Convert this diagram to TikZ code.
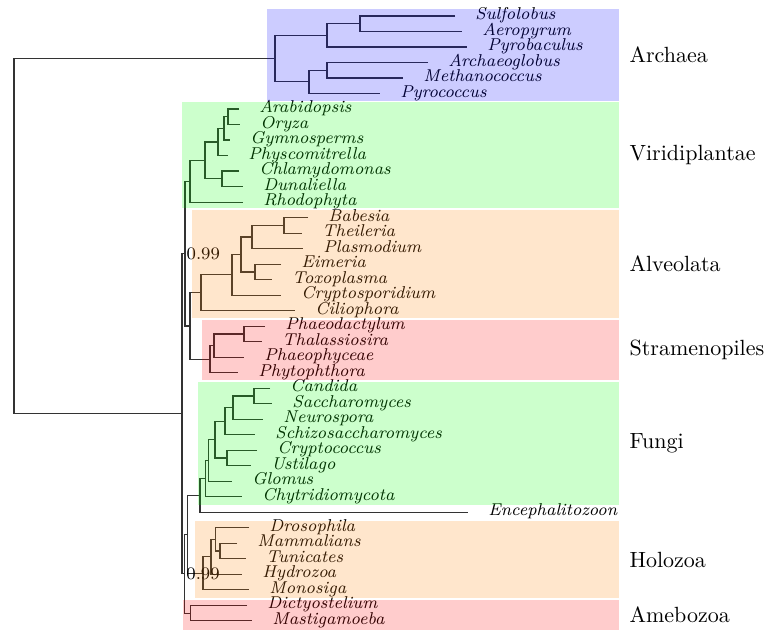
\documentclass[tikz,border=0pt]{standalone}
\begin{document}
\begin{tikzpicture}[x=0.4545pt,y=-0.4545pt,line width=0.55pt,
        leaf/.style={anchor=west,inner xsep=9pt,inner ysep=0pt,text height=5pt,text depth=1.8pt,font=\fontsize{7.8}{9}\selectfont\itshape},
        grp/.style={anchor=west,inner sep=0pt},
        supp/.style={anchor=west,inner sep=0.5pt,font=\footnotesize},
        band/.style={fill opacity=0.2}]
        \useasboundingbox (0,0) rectangle (767,630);
        % leaves, one every 15.51 units from the top
        \foreach \n/\x/\t [count=\i from 0] in {sulf/455/Sulfolobus, aero/462/Aeropyrum, pyrob/467/Pyrobaculus,
            archg/428/Archaeoglobus, meth/403/Methanococcus, pyroc/380/Pyrococcus,
            arab/239/Arabidopsis, oryza/240/Oryza, gymno/230/Gymnosperms, physc/228/Physcomitrella,
            chlam/239/Chlamydomonas, dunal/243/Dunaliella, rhodo/243/Rhodophyta,
            babes/308/Babesia, theil/302/Theileria, plasm/303/Plasmodium, eimer/281/Eimeria,
            toxop/272/Toxoplasma, crysp/281/Cryptosporidium, cilio/295/Ciliophora,
            phaeo/265/Phaeodactylum, thala/262/Thalassiosira, phyce/244/Phaeophyceae, phyto/238/Phytophthora,
            candi/270/Candida, sacch/272/Saccharomyces, neuro/263/Neurospora, schiz/255/Schizosaccharomyces,
            cryco/257/Cryptococcus, ustil/251/Ustilago, glomu/232/Glomus, chytr/242/Chytridiomycota,
            encep/468/Encephalitozoon,
            droso/249/Drosophila, mamma/237/Mammalians, tunic/246/Tunicates, hydro/242/Hydrozoa, monos/249/Monosiga,
            dicty/247/Dictyostelium, masti/252/Mastigamoeba}
          \node[leaf] (\n) at (\x,{16+15.51*\i}) {\t};
        % inner nodes
        \coordinate (a1) at (360,23.75);   \coordinate (a2) at (327,35.4);
        \coordinate (a3) at (327,70.25);   \coordinate (a4) at (309,81.9);
        \coordinate (arch) at (275,58.65);
        \coordinate (v1) at (228,116.85);  \coordinate (v2) at (224,128.5);
        \coordinate (v3) at (218,142.05);  \coordinate (v4) at (222,178.85);
        \coordinate (v5) at (205,160.45);  \coordinate (vir) at (190,181.3);
        \coordinate (l1) at (284,225.35);  \coordinate (l2) at (252,237);
        \coordinate (l3) at (255,271.95);  \coordinate (l4) at (241,254.5);
        \coordinate (l5) at (232,274.85);  \coordinate (alv) at (201,292.8);
        \coordinate (s1) at (244,333.95);  \coordinate (s2) at (214,345.6);
        \coordinate (str) at (210,359.15); \coordinate (alst) at (190,326);
        \coordinate (bik) at (185,253.65);
        \coordinate (f1) at (254,396);     \coordinate (f2) at (233,407.65);
        \coordinate (f3) at (225,421.2);   \coordinate (f4) at (227,458.05);
        \coordinate (f5) at (215,439.6);   \coordinate (f6) at (208.5,460.45);
        \coordinate (fun) at (205.5,478.6); \coordinate (mic) at (200,495.45);
        \coordinate (h1) at (220,551.1);   \coordinate (h2) at (215.5,539.45);
        \coordinate (h3) at (211,556.9);   \coordinate (hol) at (203,573.4);
        \coordinate (opi) at (187.5,534.4); \coordinate (amo) at (190.5,613.15);
        \coordinate (uni) at (184.7,573.8); \coordinate (euk) at (182,413.7);
        \coordinate (root) at (14,236.2);
        \begin{scope}[draw=black!80]
        % Archaea
        \draw (sulf.west) -| (a1) |- (aero.west);
        \draw (a1) -| (a2) |- (pyrob.west);
        \draw (archg.west) -| (a3) |- (meth.west);
        \draw (a3) -| (a4) |- (pyroc.west);
        \draw (a2) -| (arch) |- (a4);
        \draw (arch) -| (root) |- (euk);
        % Viridiplantae
        \draw (arab.west) -| (v1) |- (oryza.west);
        \draw (v1) -| (v2) |- (gymno.west);
        \draw (v2) -| (v3) |- (physc.west);
        \draw (chlam.west) -| (v4) |- (dunal.west);
        \draw (v3) -| (v5) |- (v4);
        \draw (v5) -| (vir) |- (rhodo.west);
        % Alveolata and Stramenopiles
        \draw (babes.west) -| (l1) |- (theil.west);
        \draw (l1) -| (l2) |- (plasm.west);
        \draw (eimer.west) -| (l3) |- (toxop.west);
        \draw (l2) -| (l4) |- (l3);
        \draw (l4) -| (l5) |- (crysp.west);
        \draw (l5) -| (alv) |- (cilio.west);
        \draw (phaeo.west) -| (s1) |- (thala.west);
        \draw (s1) -| (s2) |- (phyce.west);
        \draw (s2) -| (str) |- (phyto.west);
        \draw (alv) -| (alst) |- (str);
        \draw (vir) -| (bik) |- (alst);
        % Fungi
        \draw (candi.west) -| (f1) |- (sacch.west);
        \draw (f1) -| (f2) |- (neuro.west);
        \draw (f2) -| (f3) |- (schiz.west);
        \draw (cryco.west) -| (f4) |- (ustil.west);
        \draw (f3) -| (f5) |- (f4);
        \draw (f5) -| (f6) |- (glomu.west);
        \draw (f6) -| (fun) |- (chytr.west);
        \draw (fun) -| (mic) |- (encep.west);
        % Holozoa and Amebozoa
        \draw (mamma.west) -| (h1) |- (tunic.west);
        \draw (droso.west) -| (h2) |- (h1);
        \draw (h2) -| (h3) |- (hydro.west);
        \draw (h3) -| (hol) |- (monos.west);
        \draw (mic) -| (opi) |- (hol);
        \draw (dicty.west) -| (amo) |- (masti.west);
        \draw (opi) -| (uni) |- (amo);
        \draw (bik) -| (euk) |- (uni);
        \end{scope}
        \node[supp] (pb) at (bik) {0.99};
        \node[supp] (pu) at (uni) {0.99};
        % groups
        \node[grp] (garch) at (629,55) {Archaea};
        \node[grp] (gviri) at (629,155.5) {Viridiplantae};
        \node[grp] (galve) at (629,264) {Alveolata};
        \node[grp] (gstra) at (629,350) {Stramenopiles};
        \node[grp] (gfung) at (629,443.5) {Fungi};
        \node[grp] (gholo) at (629,560) {Holozoa};
        \node[grp] (gameb) at (629,615) {Amebozoa};
        \fill[band,blue] (267,9) rectangle (619,101.5);
        \fill[band,green] (182,102.5) rectangle (619,208.5);
        \fill[band,orange] (192,210) rectangle (619,318.5);
        \fill[band,red] (202,320) rectangle (619,380.5);
        \fill[band,green] (198,382) rectangle (619,505);
        \fill[band,orange] (195,521) rectangle (619,598.5);
        \fill[band,red] (183,600) rectangle (619,632);
\end{tikzpicture}
\end{document}
